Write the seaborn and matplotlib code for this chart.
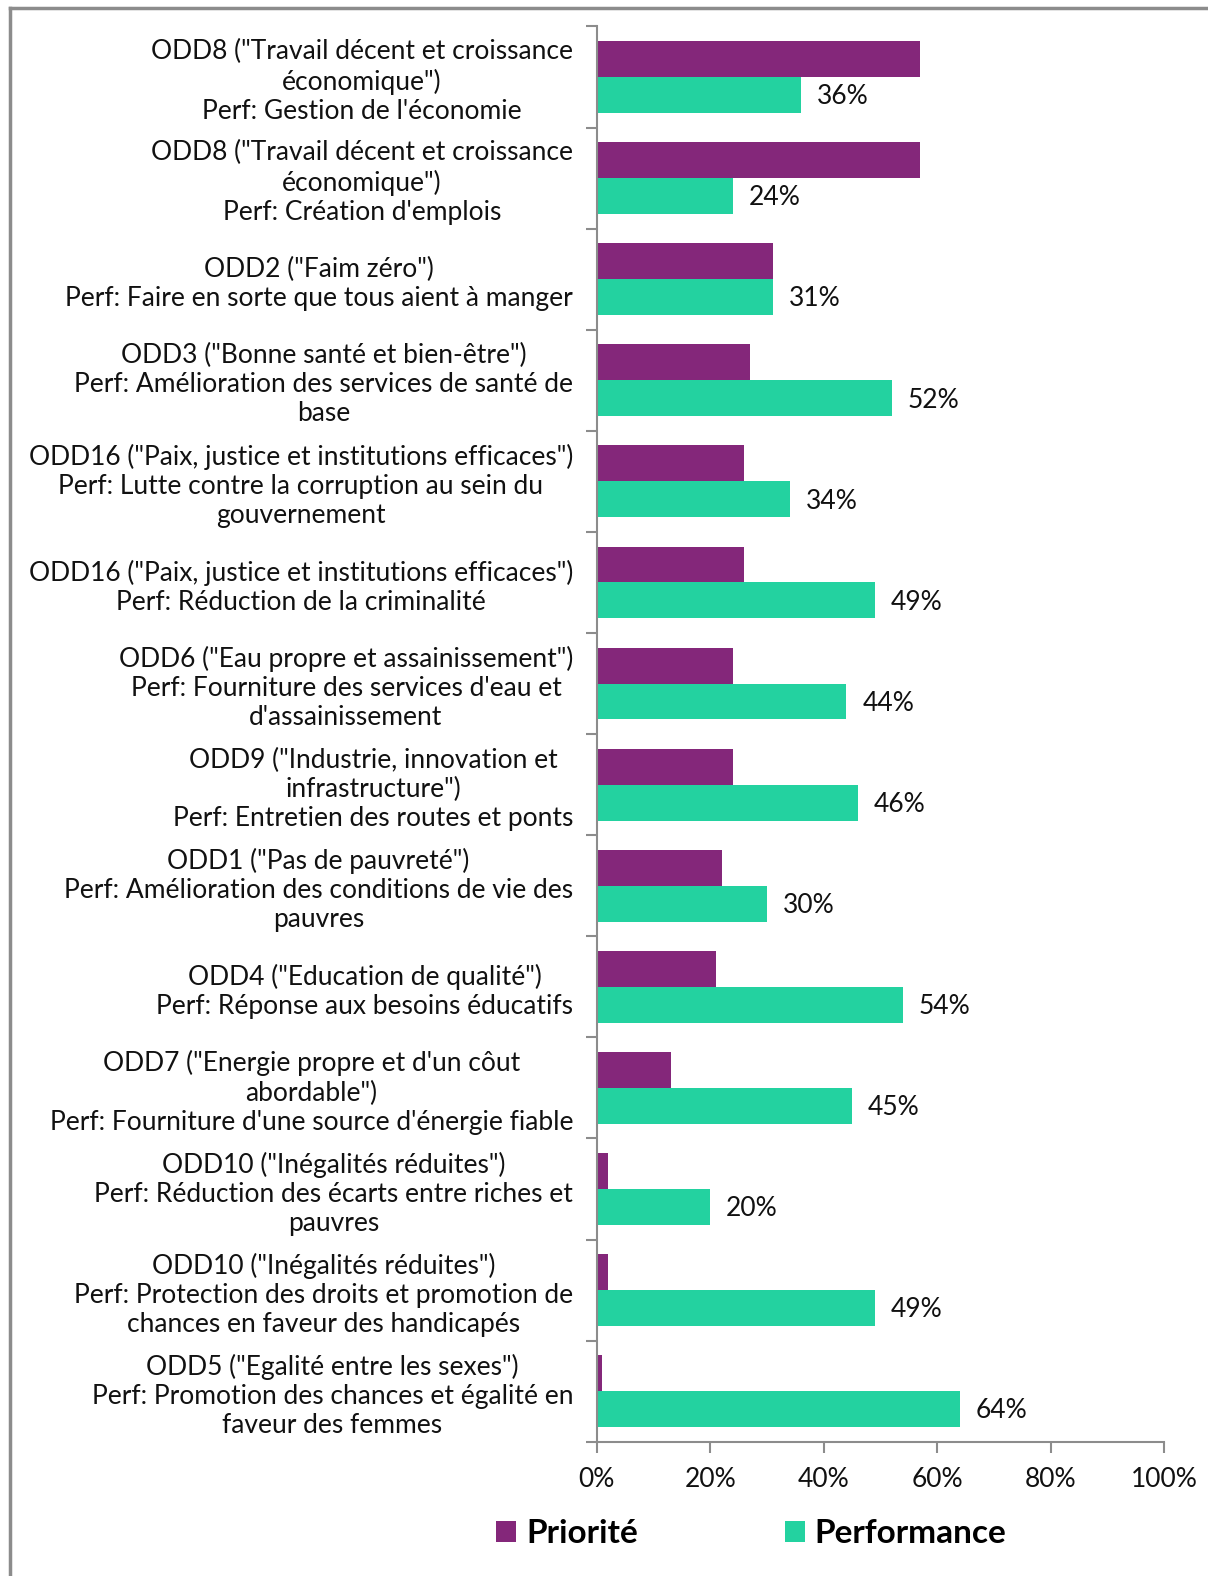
import numpy as np
import pandas as pd
import matplotlib.pyplot as plt
import seaborn as sns
from matplotlib.ticker import FuncFormatter, FixedLocator
from matplotlib.lines import Line2D
from matplotlib.patches import Patch

categories = [
    'ODD8 ("Travail décent et croissance\néconomique")\nPerf: Gestion de l\'économie',
    'ODD8 ("Travail décent et croissance\néconomique")\nPerf: Création d\'emplois',
    'ODD2 ("Faim zéro")\nPerf: Faire en sorte que tous aient à manger',
    'ODD3 ("Bonne santé et bien-être")\nPerf: Amélioration des services de santé de\nbase',
    'ODD16 ("Paix, justice et institutions efficaces")\nPerf: Lutte contre la corruption au sein du\ngouvernement',
    'ODD16 ("Paix, justice et institutions efficaces")\nPerf: Réduction de la criminalité',
    'ODD6 ("Eau propre et assainissement")\nPerf: Fourniture des services d\'eau et\nd\'assainissement',
    'ODD9 ("Industrie, innovation et\ninfrastructure")\nPerf: Entretien des routes et ponts',
    'ODD1 ("Pas de pauvreté")\nPerf: Amélioration des conditions de vie des\npauvres',
    'ODD4 ("Education de qualité")\nPerf: Réponse aux besoins éducatifs',
    'ODD7 ("Energie propre et d\'un côut\nabordable")\nPerf: Fourniture d\'une source d\'énergie fiable',
    'ODD10 ("Inégalités réduites")\nPerf: Réduction des écarts entre riches et\npauvres',
    'ODD10 ("Inégalités réduites")\nPerf: Protection des droits et promotion de\nchances en faveur des handicapés',
    'ODD5 ("Egalité entre les sexes")\nPerf: Promotion des chances et égalité en\nfaveur des femmes',
]
priorite = [57, 57, 31, 27, 26, 26, 24, 24, 22, 21, 13, 2, 2, 1]
performance = [36, 24, 31, 52, 34, 49, 44, 46, 30, 54, 45, 20, 49, 64]
series = ['Priorité', 'Performance']
colors = ['#84277A', '#23D2A0']

df = pd.DataFrame({
    'cat': categories * 2,
    'val': priorite + performance,
    'serie': ['Priorité'] * len(categories) + ['Performance'] * len(categories),
})

plt.rcParams['font.family'] = ['Lato', 'DejaVu Sans']

fig = plt.figure(figsize=(12.08, 15.76), dpi=100)
ax = fig.add_axes([0.494, 0.0852, 0.4697, 0.898])

sns.barplot(data=df, y='cat', x='val', hue='serie', hue_order=series,
            palette=colors, orient='h', width=0.71, ax=ax, legend=False,
            saturation=1, edgecolor='none')

# value labels on the performance bars only
for bar in ax.containers[1]:
    w = bar.get_width()
    ax.text(w + 2.8, bar.get_y() + bar.get_height() * 0.55, f'{w:.0f}%',
            va='center', ha='left', fontsize=19, color='#111111')

ax.set_xlim(0, 100)
ax.set_ylim(len(categories) - 0.5, -0.5)
ax.xaxis.set_major_formatter(FuncFormatter(lambda x, _: f'{x:.0f}%'))
ax.set_xticks(np.arange(0, 101, 20))
ax.set_xlabel('')
ax.set_ylabel('')

ax.set_yticks(range(len(categories)))
ax.set_yticklabels(categories, fontsize=19, multialignment='center', color='#111111')
ax.yaxis.set_minor_locator(FixedLocator(np.arange(-0.5, len(categories), 1)))
ax.tick_params(axis='y', which='major', length=0, pad=17)
ax.tick_params(axis='y', which='minor', length=8, width=1.5, color='#8c8c8c')
ax.tick_params(axis='x', which='major', length=8, width=1.5, color='#8c8c8c',
               labelsize=19, labelcolor='#111111', pad=10)

for s in ['top', 'right']:
    ax.spines[s].set_visible(False)
for s in ['left', 'bottom']:
    ax.spines[s].set_color('#8c8c8c')
    ax.spines[s].set_linewidth(1.5)

handles = [Patch(facecolor=c, edgecolor='none', label=s) for c, s in zip(colors, series)]
leg = fig.legend(handles=handles, loc='center', bbox_to_anchor=(0.622, 0.027), ncol=2,
                 frameon=False, prop={'size': 24, 'weight': 'bold'},
                 handlelength=0.6, handleheight=0.6, handletextpad=0.3, columnspacing=4.4)

# outer frame (top and left edges visible)
fig.add_artist(Line2D([0.0085, 0.0085], [0, 0.9952], transform=fig.transFigure,
                      color='#8c8c8c', lw=2.5))
fig.add_artist(Line2D([0.0085, 1], [0.9952, 0.9952], transform=fig.transFigure,
                      color='#8c8c8c', lw=2.5))

fig.savefig('out.png', dpi=100)
